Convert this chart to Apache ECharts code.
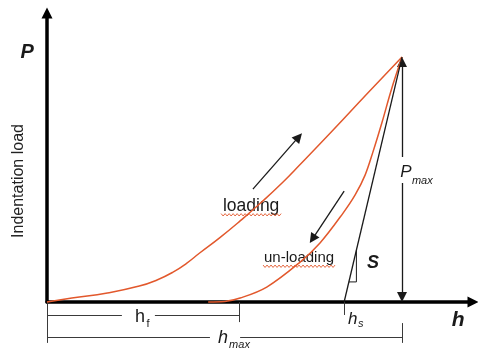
<!DOCTYPE html>
<html>
<head>
<meta charset="utf-8">
<script src="https://cdn.jsdelivr.net/npm/echarts@6/dist/echarts.min.js"></script>
<style>
  html, body { margin: 0; padding: 0; background: #fff; }
  #chart { width: 478px; height: 351px; }
</style>
</head>
<body>
<div id="chart"></div>
<script>
// depth h and load P, scaled so that hmax = 100 and Pmax = 100
const loadingH = [0, 7, 17, 26, 31, 35.5, 39.4, 43, 48.7, 54.4, 60, 66.5, 71.3, 80.6, 90.1, 100];
const loadingP = [0, 1.6, 3.7, 6.5, 9, 12.2, 15.9, 20, 26.3, 33.1, 40.2, 49, 56.1, 70.2, 84.9, 100];
const unloadingH = [45.4, 50.1, 54.4, 61.9, 71.3, 76.9, 83.4, 86.8, 89.6, 91.8, 94.4, 97.0, 100];
const unloadingP = [0, 0.2, 1.6, 6.1, 16.3, 24.1, 36.3, 43.7, 51.8, 61.2, 73.5, 86.7, 100];
const depthNames = ["hf", "hs", "hmax"];
const depthValues = [54.1, 83.7, 100];
const pMax = 100;

const hf = depthValues[0], hs = depthValues[1], hmax = depthValues[2];
const slope = pMax / (hmax - hs);
const red = "#e2582c";
const ink = "#1a1a1a";
const dim = "#3a3a3a";
const font = "'Liberation Sans', Arial, sans-serif";

const zip = (xs, ys) => xs.map((x, i) => [x, ys[i]]);

// small stiffness triangle on the tangent line
const triLow = 8.2, triHigh = 21.2;
const triangle = [
  [hs + triLow / slope, triLow],
  [hs + triHigh / slope, triLow],
  [hs + triHigh / slope, triHigh],
];

const arrows = [
  [[58.0, 46.1], [70.9, 67.4]],
  [[83.7, 45.3], [74.8, 25.8]],
  [[hmax, 59.2], [hmax, pMax - 2]],
  [[hmax, 48.6], [hmax, 2]],
];

const dims = [
  [[0, 0], [0, -16.7]],
  [[0, -5.3], [21.1, -5.3]],
  [[30.4, -5.3], [hf, -5.3]],
  [[hf, 0], [hf, -8.2]],
  [[hs, 0], [hs, -5.3]],
  [[0, -14.3], [45.9, -14.3]],
  [[54.4, -14.3], [hmax, -14.3]],
  [[hmax, -8.6], [hmax, -16.7]],
];

const chart = echarts.init(document.getElementById("chart"));

const axisCommon = {
  type: "value",
  axisLine: {
    show: true,
    symbol: ["none", "triangle"],
    symbolSize: [11, 11],
    lineStyle: { color: "#000", width: 3.5 },
  },
  axisTick: { show: false },
  axisLabel: { show: false },
  splitLine: { show: false },
};

chart.setOption({
  animation: false,
  grid: { left: 47, right: 5, top: 13, bottom: 49 },
  xAxis: Object.assign({ min: 0, max: 120 }, axisCommon),
  yAxis: Object.assign({ min: 0, max: 118 }, axisCommon),
  series: [
    {
      type: "line",
      data: zip(loadingH, loadingP),
      smooth: 0.5,
      symbol: "none",
      clip: false,
      lineStyle: { color: red, width: 1.5 },
    },
    {
      type: "line",
      data: zip(unloadingH, unloadingP),
      smooth: 0.35,
      symbol: "none",
      clip: false,
      lineStyle: { color: red, width: 1.5 },
    },
    {
      type: "line",
      data: [[hs, 0], [hmax, pMax]],
      symbol: "none",
      clip: false,
      lineStyle: { color: ink, width: 1.3 },
    },
    {
      type: "line",
      data: triangle,
      symbol: "none",
      clip: false,
      lineStyle: { color: ink, width: 1 },
    },
    {
      type: "lines",
      coordinateSystem: "cartesian2d",
      clip: false,
      symbol: ["none", "triangle"],
      symbolSize: 10,
      lineStyle: { color: ink, width: 1.3, opacity: 1 },
      data: arrows.map((c) => ({ coords: c })),
    },
    {
      type: "lines",
      coordinateSystem: "cartesian2d",
      clip: false,
      symbol: "none",
      lineStyle: { color: dim, width: 1, opacity: 1 },
      data: dims.map((c) => ({ coords: c })),
    },
  ],
});

const px = (h, p) => chart.convertToPixel({ gridIndex: 0 }, [h, p]);

function label(h, p, text, size, opts) {
  const [x, y] = px(h, p);
  opts = opts || {};
  return {
    type: "text",
    x: x,
    y: y,
    rotation: opts.rotation || 0,
    style: {
      text: text,
      fontFamily: font,
      fontSize: size,
      fontStyle: opts.italic ? "italic" : "normal",
      fontWeight: opts.bold ? "bold" : "normal",
      fill: opts.color || ink,
      align: opts.align || "center",
      verticalAlign: "middle",
    },
  };
}

function wavy(h, p, width) {
  const [cx, cy] = px(h, p);
  const pts = [];
  for (let x = cx - width / 2, k = 0; x <= cx + width / 2; x += 2, k++) {
    pts.push([x, cy + (k % 2 ? 1.2 : -1.2)]);
  }
  return { type: "polyline", shape: { points: pts }, style: { stroke: red, lineWidth: 0.9, fill: null } };
}

chart.setOption({
  graphic: [
    label(-5.6, 102, "P", 20, { italic: true, bold: true }),
    label(-7.9, 49.4, "Indentation load", 16, { rotation: Math.PI / 2, color: "#222" }),
    label(115.8, -7.3, "h", 21, { italic: true, bold: true }),
    label(57.5, 39.2, "loading", 17.5),
    wavy(57.5, 35.6, 60),
    label(71.0, 18.0, "un-loading", 15),
    wavy(71.0, 14.6, 72),
    label(91.8, 15.9, "S", 18, { italic: true, bold: true }),
    label(101.1, 53.1, "P", 17, { italic: true }),
    label(102.8, 49.4, "max", 11, { italic: true, align: "left" }),
    label(26.2, -6.1, "h", 18),
    label(28.0, -9.0, "f", 11, { align: "left" }),
    label(49.6, -14.7, "h", 18, { italic: true }),
    label(51.3, -17.6, "max", 11, { italic: true, align: "left" }),
    label(86.1, -6.9, "h", 17, { italic: true }),
    label(87.6, -9.0, "s", 11, { italic: true, align: "left" }),
  ],
});
</script>
</body>
</html>
